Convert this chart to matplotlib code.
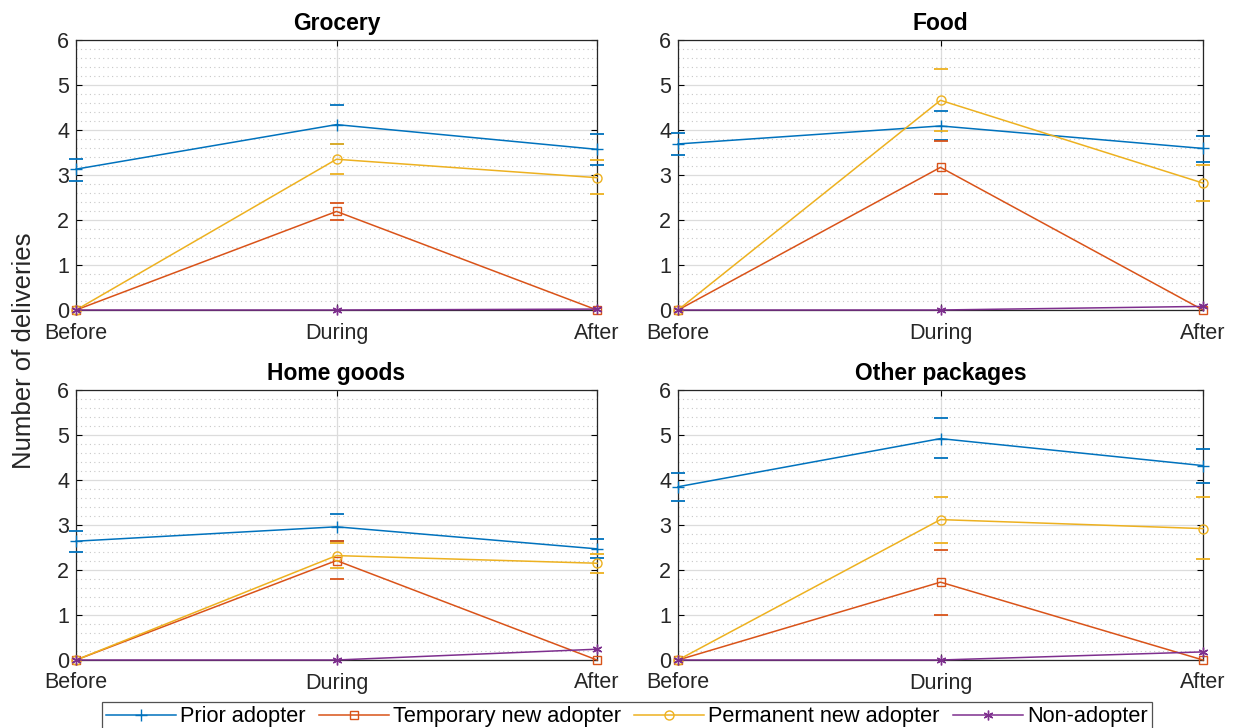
import numpy as np
import matplotlib.pyplot as plt
from matplotlib.ticker import MultipleLocator

plt.rcParams['font.family'] = ['Liberation Sans', 'DejaVu Sans']

nan = np.nan
periods = ["Before", "During", "After"]
panels = ["Grocery", "Food", "Home goods", "Other packages"]
groups = ["Prior adopter", "Temporary new adopter", "Permanent new adopter", "Non-adopter"]

# mean deliveries per panel (rows) and period (columns)
prior_mean = [[3.13, 4.12, 3.57], [3.69, 4.09, 3.59], [2.64, 2.96, 2.47], [3.85, 4.92, 4.32]]
prior_lo = [[2.87, 3.69, 3.22], [3.44, 3.78, 3.30], [2.39, 2.65, 2.27], [3.53, 4.50, 3.94]]
prior_hi = [[3.36, 4.55, 3.92], [3.94, 4.42, 3.87], [2.87, 3.25, 2.69], [4.16, 5.38, 4.70]]

temp_mean = [[0, 2.19, 0], [0, 3.17, 0], [0, 2.21, 0], [0, 1.73, 0]]
temp_lo = [[nan, 2.01, nan], [nan, 2.58, nan], [nan, 1.81, nan], [nan, 1.00, nan]]
temp_hi = [[nan, 2.38, nan], [nan, 3.76, nan], [nan, 2.65, nan], [nan, 2.44, nan]]

perm_mean = [[0, 3.35, 2.94], [0, 4.66, 2.82], [0, 2.32, 2.15], [0, 3.12, 2.92]]
perm_lo = [[nan, 3.02, 2.57], [nan, 3.98, 2.43], [nan, 2.04, 1.93], [nan, 2.61, 2.24]]
perm_hi = [[nan, 3.69, 3.33], [nan, 5.36, 3.22], [nan, 2.61, 2.36], [nan, 3.63, 3.62]]

non_mean = [[0, 0, 0.02], [0, 0, 0.08], [0, 0, 0.24], [0, 0, 0.18]]

colors = ["#0072BD", "#D95319", "#EDB120", "#7E2F8E"]
markers = ["+", "s", "o", (6, 2, 0)]
msizes = [8, 5.5, 6.5, 7]
series = [
    (prior_mean, prior_lo, prior_hi),
    (temp_mean, temp_lo, temp_hi),
    (perm_mean, perm_lo, perm_hi),
    (non_mean, None, None),
]

W, H = 1237, 728
fig = plt.figure(figsize=(W / 100, H / 100), dpi=100)

# axes boxes in pixels: left, top, right, bottom
boxes = [(76, 40, 597, 310), (678, 40, 1203, 310),
         (76, 390, 597, 660), (678, 390, 1203, 660)]

x = np.arange(3)
handles = []
for k, (l, t, r, b) in enumerate(boxes):
    ax = fig.add_axes([l / W, 1 - b / H, (r - l) / W, (b - t) / H])
    ax.set_xlim(0, 2)
    ax.set_ylim(0, 6)
    ax.yaxis.set_major_locator(MultipleLocator(1))
    ax.yaxis.set_minor_locator(MultipleLocator(0.2))
    ax.set_xticks(x)
    ax.set_xticklabels(periods)
    ax.grid(True, which="major", color="#dcdcdc", lw=0.9)
    ax.grid(True, which="minor", axis="y", color="#c8c8c8", lw=0.8, ls=(0, (1, 3)))
    ax.set_axisbelow(True)
    ax.tick_params(which="both", direction="in", top=True, right=True,
                   labelsize=15.5, length=4, labelcolor="#262626")
    ax.tick_params(axis="x", pad=9)
    ax.tick_params(axis="y", pad=5)
    ax.tick_params(which="minor", length=0)
    for sp in ax.spines.values():
        sp.set_linewidth(0.9)
        sp.set_color("#262626")
    ax.set_title(panels[k], fontsize=16.5, fontweight="bold", pad=7)

    for j, (mean, lo, hi) in enumerate(series):
        c = colors[j]
        ln, = ax.plot(x, mean[k], color=c, lw=1.1, marker=markers[j],
                      markersize=msizes[j], mfc="none", mec=c,
                      mew=1.0, clip_on=False, zorder=3 + j * 0.1, label=groups[j])
        if lo is not None:
            ax.plot(x, lo[k], ls="none", marker="_", markersize=9.5, mew=1.3,
                    color=c, clip_on=False, zorder=3)
            ax.plot(x, hi[k], ls="none", marker="_", markersize=9.5, mew=1.3,
                    color=c, clip_on=False, zorder=3)
        if k == 0:
            handles.append(ln)

fig.text(24 / W, 1 - 351 / H, "Number of deliveries", rotation=90,
         ha="center", va="center", fontsize=18.5, color="#262626")

leg = fig.legend(handles, groups, loc="upper center", ncol=4,
                 bbox_to_anchor=(627 / W, 1 - 702 / H), fontsize=15.7,
                 frameon=True, fancybox=False, edgecolor="#262626",
                 handlelength=3.2, handletextpad=0.2, columnspacing=0.6,
                 borderpad=0.2, borderaxespad=0)
leg.get_frame().set_linewidth(0.9)

fig.savefig("out.png", dpi=100)
